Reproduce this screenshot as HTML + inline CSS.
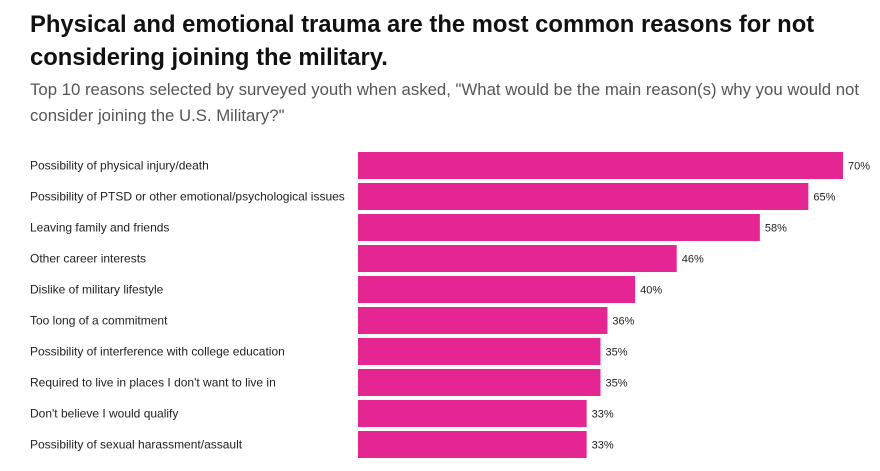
<!DOCTYPE html>
<html><head><meta charset="utf-8"><style>
body{margin:0;width:880px;height:471px;background:#fff;font-family:"Liberation Sans",sans-serif;overflow:hidden}
h1{position:absolute;left:30px;top:8px;margin:0;font-size:23.8px;line-height:33px;font-weight:bold;color:#111;width:850px}
p{position:absolute;left:30px;top:77px;margin:0;font-size:16.75px;line-height:26px;color:#555;width:850px}
</style></head><body>
<h1>Physical and emotional trauma are the most common reasons for not considering joining the military.</h1>
<p>Top 10 reasons selected by surveyed youth when asked, "What would be the main reason(s) why you would not consider joining the U.S. Military?"</p>
<svg id="c" width="880" height="471" style="position:absolute;left:0;top:0"></svg>
<script>
const categories=["Possibility of physical injury/death","Possibility of PTSD or other emotional/psychological issues","Leaving family and friends","Other career interests","Dislike of military lifestyle","Too long of a commitment","Possibility of interference with college education","Required to live in places I don't want to live in","Don't believe I would qualify","Possibility of sexual harassment/assault"];
const values=[70,65,58,46,40,36,35,35,33,33];
const valueLabels=["70%","65%","58%","46%","40%","36%","35%","35%","33%","33%"];
const svg=document.getElementById('c');const NS="http://www.w3.org/2000/svg";
const x0=358,pxPer=485/70,y0=152,pitch=31,bh=27;
const xs=v=>x0+v*pxPer, ys=i=>y0+i*pitch;
categories.forEach((c,i)=>{
 const t=document.createElementNS(NS,'text');t.setAttribute('x',30);t.setAttribute('y',ys(i)+bh/2+4);t.setAttribute('font-size','12');t.setAttribute('fill','#222');t.textContent=c;
 
 
 svg.appendChild(t);
 const r=document.createElementNS(NS,'rect');r.setAttribute('x',x0);r.setAttribute('y',ys(i));r.setAttribute('width',xs(values[i])-x0);r.setAttribute('height',bh);r.setAttribute('fill','#e52592');
 
 
 svg.appendChild(r);
 const v=document.createElementNS(NS,'text');v.setAttribute('x',xs(values[i])+5);v.setAttribute('y',ys(i)+bh/2+4);v.setAttribute('font-size','11');v.setAttribute('fill','#222');v.textContent=valueLabels[i];
 
 
 svg.appendChild(v);
});
</script>
</body></html>
